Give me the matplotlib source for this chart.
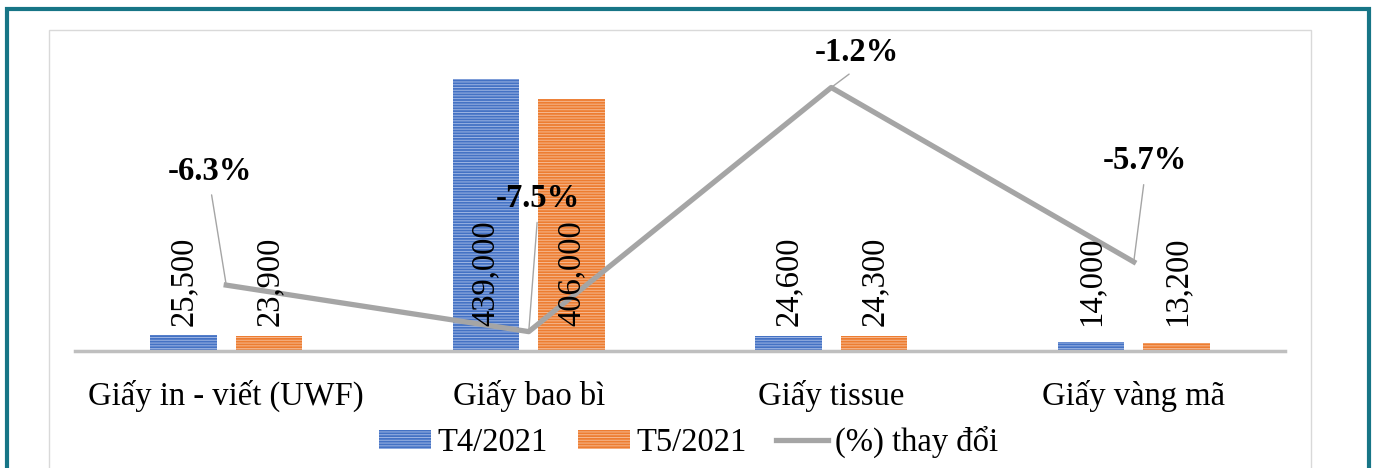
import matplotlib.pyplot as plt
import matplotlib.patches as mpatches
import numpy as np

plt.rcParams['font.family'] = ['Liberation Serif', 'DejaVu Serif']
plt.rcParams['hatch.linewidth'] = 0.7

# data
categories = ['Giấy in - viết (UWF)', 'Giấy bao bì', 'Giấy tissue', 'Giấy vàng mã']
t4_2021 = [25500, 439000, 24600, 14000]
t5_2021 = [23900, 406000, 24300, 13200]
pct_change = [-6.3, -7.5, -1.2, -5.7]
series_names = ['T4/2021', 'T5/2021', '(%) thay đổi']

# label offsets for the % annotations (pixels)
pct_offsets = [(-16, 114), (9, 133), (26, 35), (11, 101)]

fs = 23.5

fig = plt.figure(figsize=(13.77, 4.68), dpi=100)

# outer teal frame and inner light chart frame
fig.patches.append(mpatches.Rectangle((7 / 1377, -0.1), 1362 / 1377, 1.1 - 9 / 468,
                                      transform=fig.transFigure, fill=False,
                                      edgecolor='#177586', linewidth=3))
fig.patches.append(mpatches.Rectangle((49 / 1377, -0.1), 1262 / 1377, 1.1 - 30 / 468,
                                      transform=fig.transFigure, fill=False,
                                      edgecolor='#D9D9D9', linewidth=1))

ax = fig.add_axes([75 / 1377, 117 / 468, 1210 / 1377, 310 / 468])
ax2 = ax.twinx()

x = np.arange(len(categories))
w = 0.22
off = 0.142
b1 = ax.bar(x - off, t4_2021, w, color='#4472C4', edgecolor='#9DB5E3',
            hatch='------', linewidth=0, label=series_names[0])
b2 = ax.bar(x + off, t5_2021, w, color='#ED7D31', edgecolor='#F6B88F',
            hatch='------', linewidth=0, label=series_names[1])

ax.set_ylim(0, 500000)
ax.set_xlim(-0.5, 3.5)
ax.set_yticks([])
for s in ['top', 'left', 'right']:
    ax.spines[s].set_visible(False)
ax.spines['bottom'].set_color('#BFBFBF')
ax.spines['bottom'].set_linewidth(2.5)
ax.set_xticks(x)
ax.set_xticklabels(categories, fontsize=fs)
ax.tick_params(axis='x', length=0, pad=21)

ln, = ax2.plot(x, pct_change, color='#A5A5A5', linewidth=3.8,
               solid_joinstyle='round', label=series_names[2])
ax2.set_ylim(-8, 0)
ax2.set_yticks([])
for s in ax2.spines.values():
    s.set_visible(False)

# value labels (on ax2 so they sit above the line)
for i in range(len(categories)):
    ax2.text(x[i] - off, 40000, f'{t4_2021[i]:,}', transform=ax.transData,
             rotation=90, ha='center', va='bottom', fontsize=fs)
    ax2.text(x[i] + off, 40000, f'{t5_2021[i]:,}', transform=ax.transData,
             rotation=90, ha='center', va='bottom', fontsize=fs)

for i, p in enumerate(pct_change):
    ax2.annotate(f'{p}%', xy=(x[i], p), xytext=pct_offsets[i],
                 textcoords='offset pixels', ha='center', va='center',
                 fontsize=fs, fontweight='bold',
                 arrowprops=dict(arrowstyle='-', color='#A5A5A5', lw=1,
                                 relpos=(0.5, 0), shrinkA=4, shrinkB=0))

fig.legend(handles=[b1, b2, ln], labels=series_names, loc='center',
           bbox_to_anchor=(0.5, 0.055), ncol=3, frameon=False, fontsize=fs,
           handlelength=1.6, handleheight=0.55, handletextpad=0.2,
           columnspacing=0.9)

plt.savefig('out.png', dpi=100)
